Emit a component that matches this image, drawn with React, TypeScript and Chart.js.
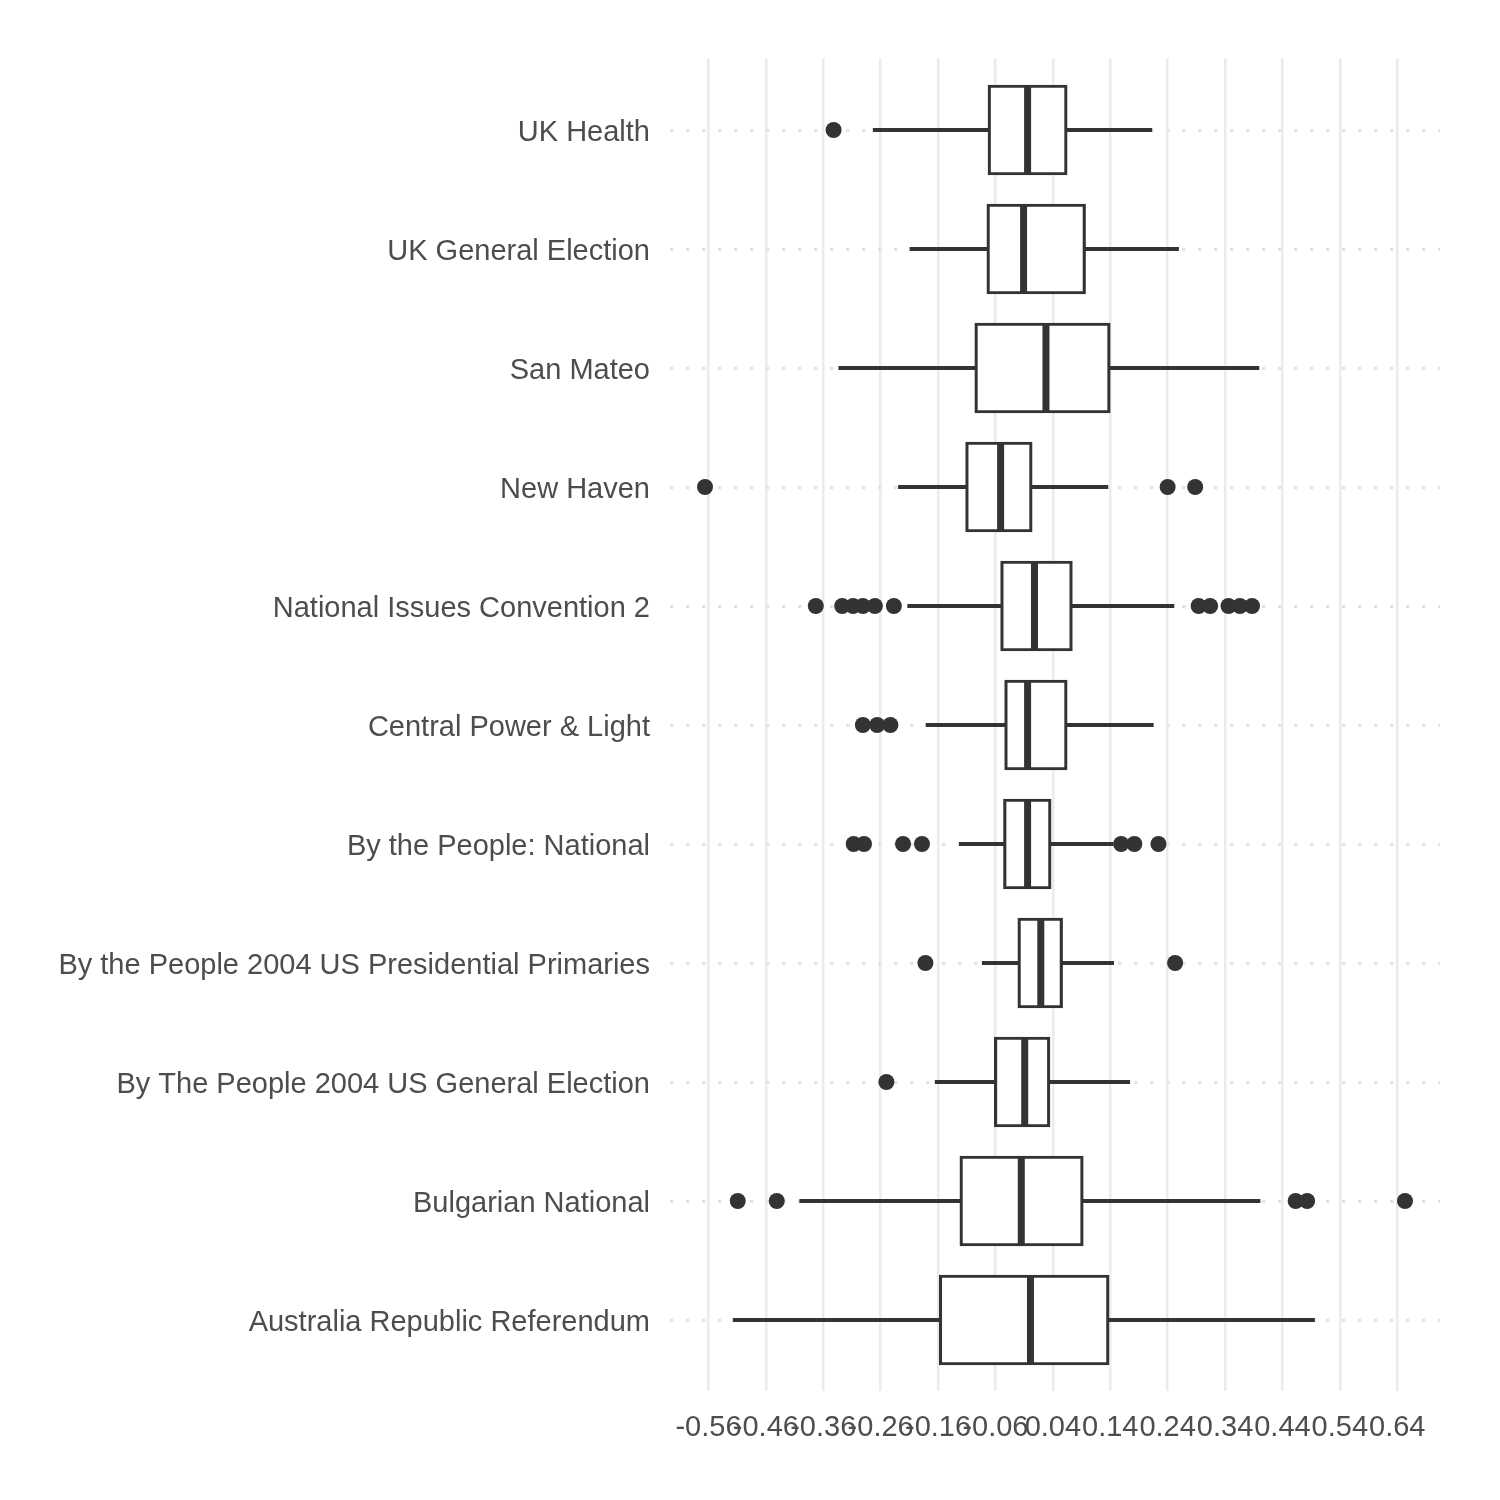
import React, { useEffect, useRef } from "react";
import { Chart, registerables } from "chart.js";

Chart.register(...registerables);

// Categories, top to bottom
const categories = [
  "UK Health",
  "UK General Election",
  "San Mateo",
  "New Haven",
  "National Issues Convention 2",
  "Central Power & Light",
  "By the People: National",
  "By the People 2004 US Presidential Primaries",
  "By The People 2004 US General Election",
  "Bulgarian National",
  "Australia Republic Referendum",
];

const whiskerLow = [-0.273, -0.209, -0.333, -0.229, -0.213, -0.181, -0.123, -0.083, -0.165, -0.401, -0.517];
const q1 = [-0.073, -0.075, -0.096, -0.112, -0.051, -0.044, -0.046, -0.021, -0.062, -0.122, -0.158];
const median = [-0.004, -0.011, 0.028, -0.051, 0.008, -0.004, -0.004, 0.019, -0.009, -0.015, 0.001];
const q3 = [0.065, 0.097, 0.14, 0.004, 0.074, 0.065, 0.037, 0.057, 0.035, 0.093, 0.138];
const whiskerHigh = [0.2125, 0.259, 0.399, 0.136, 0.251, 0.215, 0.145, 0.146, 0.174, 0.401, 0.496];

const outliers: number[][] = [
  [-0.342],
  [],
  [],
  [-0.566, 0.24, 0.288],
  [-0.373, -0.327, -0.308, -0.291, -0.27, -0.237, 0.294, 0.314, 0.346, 0.366, 0.387],
  [-0.291, -0.266, -0.243],
  [-0.307, -0.289, -0.221, -0.188, 0.159, 0.182, 0.224],
  [-0.182, 0.253],
  [-0.25],
  [-0.509, -0.441, 0.463, 0.483, 0.6535],
  [],
];

const xTickValues = [-0.56, -0.46, -0.36, -0.26, -0.16, -0.06, 0.04, 0.14, 0.24, 0.34, 0.44, 0.54, 0.64];
const xTickLabels = ["-0.56", "-0.46", "-0.36", "-0.26", "-0.16", "-0.06", "0.04", "0.14", "0.24", "0.34", "0.44", "0.54", "0.64"];

const X_MIN = -0.627;
const X_MAX = 0.7145;

export default function App() {
  const ref = useRef<HTMLCanvasElement>(null);

  useEffect(() => {
    const canvas = ref.current;
    if (!canvas) return;
    const ink = "#333333";
    const textColor = "#4d4d4d";
    const font = { family: "'Liberation Sans', Arial, sans-serif", size: 29 };

    const outlierPoints: { x: number; y: number }[] = [];
    outliers.forEach((arr, i) => arr.forEach((v) => outlierPoints.push({ x: v, y: i })));

    const chart = new Chart(canvas, {
      type: "bar",
      data: {
        datasets: [
          {
            type: "scatter",
            label: "outliers",
            data: outlierPoints,
            pointStyle: "circle",
            pointRadius: 8,
            pointHoverRadius: 8,
            pointBackgroundColor: ink,
            pointBorderColor: ink,
            pointBorderWidth: 0,
            order: 0,
          } as any,
          {
            type: "scatter",
            label: "median",
            data: median.map((v, i) => ({ x: v, y: i })),
            pointStyle: "line",
            pointRotation: 90,
            pointRadius: 45,
            pointHoverRadius: 45,
            pointBorderColor: ink,
            pointBorderWidth: 7,
            pointHoverBorderWidth: 7,
            order: 1,
          } as any,
          {
            type: "bar",
            label: "box",
            data: q1.map((v, i) => ({ x: [v, q3[i]], y: i })),
            backgroundColor: "#ffffff",
            borderColor: ink,
            borderWidth: 3.2,
            borderSkipped: false,
            grouped: false,
            barThickness: 90,
            order: 2,
          } as any,
          {
            type: "bar",
            label: "whisker",
            data: whiskerLow.map((v, i) => ({ x: [v, whiskerHigh[i]], y: i })),
            backgroundColor: ink,
            borderWidth: 0,
            grouped: false,
            barThickness: 3.2,
            order: 3,
          } as any,
        ],
      },
      options: {
        responsive: false,
        animation: false,
        devicePixelRatio: 1,
        indexAxis: "y",
        layout: { padding: { left: 0, right: 60, top: 58.6, bottom: 48.6 } },
        plugins: { legend: { display: false }, tooltip: { enabled: false } },
        scales: {
          x: {
            type: "linear",
            position: "bottom",
            min: X_MIN,
            max: X_MAX,
            offset: false,
            afterBuildTicks: (s: any) => {
              s.ticks = xTickValues.map((v) => ({ value: v }));
            },
            afterFit: (s: any) => {
              s.height = 60;
            },
            grid: { color: "#ebebeb", lineWidth: 2.5, drawTicks: false, offset: false },
            border: { display: false },
            ticks: {
              autoSkip: false,
              maxRotation: 0,
              minRotation: 0,
              padding: 19,
              color: textColor,
              font,
              callback: (_v: any, i: number) => xTickLabels[i],
            },
          },
          y: {
            type: "linear",
            min: -0.6,
            max: 10.6,
            reverse: true,
            offset: false,
            afterBuildTicks: (s: any) => {
              s.ticks = categories.map((_, i) => ({ value: i }));
            },
            afterFit: (s: any) => {
              s.width = 670;
            },
            grid: { color: "#e3e3e3", lineWidth: 3, drawTicks: false, offset: false },
            border: { display: false, dash: [3.5, 12.5] },
            ticks: {
              autoSkip: false,
              padding: 20,
              labelOffset: 3,
              color: textColor,
              font,
              callback: (_v: any, i: number) => categories[i],
            },
          },
        },
      } as any,
    });

    return () => chart.destroy();
  }, []);

  return (
    <div style={{ position: "absolute", left: 0, top: 0, width: 1500, height: 1500, background: "#ffffff" }}>
      <canvas ref={ref} width={1500} height={1500} style={{ width: 1500, height: 1500, display: "block" }} />
    </div>
  );
}
